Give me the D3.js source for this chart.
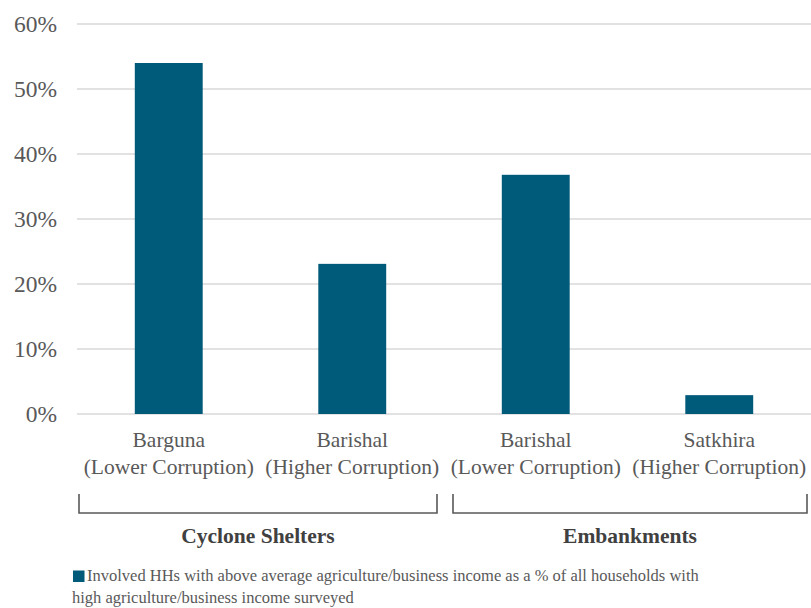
<!DOCTYPE html>
<html><head><meta charset="utf-8">
<script src="https://cdn.jsdelivr.net/npm/d3@7"></script>
</head><body style="margin:0">
<svg id="c" width="811" height="608"></svg>
<script>
const categories = ["Barguna|(Lower Corruption)", "Barishal|(Higher Corruption)", "Barishal|(Lower Corruption)", "Satkhira|(Higher Corruption)"];
const values = [54.0, 23.1, 36.8, 2.9];
const groups = ["Cyclone Shelters", "Embankments"];
const groupSpans = [[0, 1], [2, 3]];
const yTicks = [0, 10, 20, 30, 40, 50, 60];
const legendLines = ["Involved HHs with above average agriculture/business income as a % of all households with", "high agriculture/business income surveyed"];

const FONT = '"Liberation Serif", Tinos, "Times New Roman", serif';
const svg = d3.select("#c");
const x = d3.scaleBand().domain(d3.range(categories.length)).range([77, 811]).paddingInner(0.63).paddingOuter(0.315);
const y = d3.scaleLinear().domain([0, 60]).range([414, 24]);
const txt = "#595959";

function label(sel) {
  return sel.style("font-family", FONT, "important");
}

yTicks.forEach(d => {
  svg.append("line").attr("x1", 77).attr("x2", 811).attr("y1", y(d)).attr("y2", y(d))
    .attr("stroke", "#d9d9d9").attr("stroke-width", 1.3);
});
yTicks.forEach(d => {
  label(svg.append("text").attr("x", 57).attr("y", y(d) + 8).attr("font-size", 23.5).attr("fill", txt)
    .attr("text-anchor", "end")).text(d + "%");
});

values.forEach((v, i) => {
  svg.append("rect").attr("x", x(i)).attr("width", x.bandwidth())
    .attr("y", y(v)).attr("height", y(0) - y(v)).attr("fill", "#005b7b");
});

const step = x.step();
const cx = i => x(i) + x.bandwidth() / 2;
categories.forEach((c, i) => {
  const parts = c.split("|");
  [447, 474].forEach((yy, k) => {
    label(svg.append("text").attr("x", cx(i)).attr("y", yy).attr("font-size", 21.5).attr("fill", txt)
      .attr("text-anchor", "middle")).text(parts[k]);
  });
});

groupSpans.forEach((s, gi) => {
  const left = cx(s[0]) - step / 2 + (gi === 0 ? 2 : 9);
  const right = cx(s[1]) + step / 2 - (gi === 0 ? 7 : 4);
  svg.append("path").attr("d", `M${left},494 V513 H${right} V494`)
    .attr("fill", "none").attr("stroke", "#595959").attr("stroke-width", 1.6);
  label(svg.append("text").attr("x", (left + right) / 2).attr("y", 543).attr("font-size", 21.5)
    .attr("font-weight", "bold").attr("fill", "#404040").attr("text-anchor", "middle")).text(groups[gi]);
});

svg.append("rect").attr("x", 73).attr("y", 570.5).attr("width", 11.5).attr("height", 11.5).attr("fill", "#005b7b");
legendLines.forEach((l, i) => {
  label(svg.append("text").attr("x", i === 0 ? 87 : 72).attr("y", 581 + i * 21.5)
    .attr("font-size", 16.5).attr("fill", txt)).text(l);
});
</script>
</body></html>
